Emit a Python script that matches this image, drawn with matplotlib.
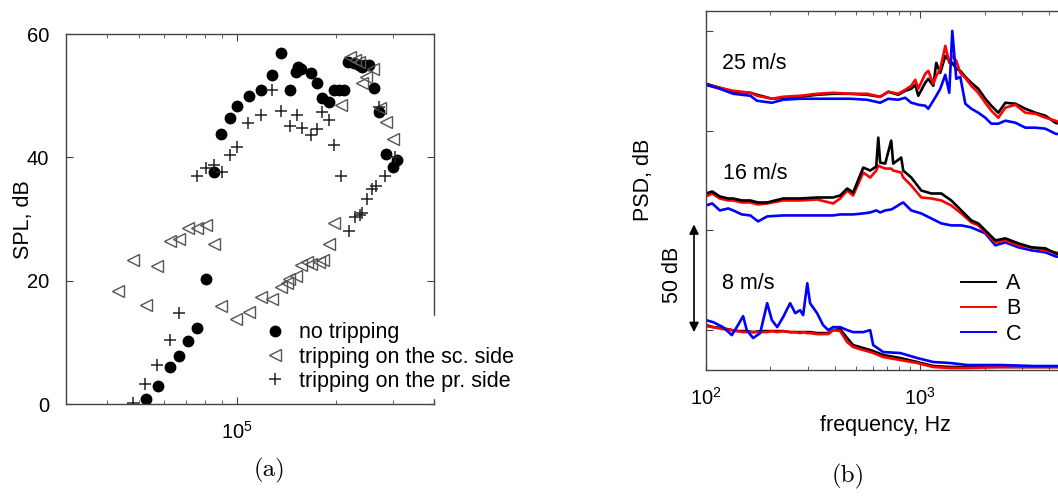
import matplotlib
matplotlib.use('Agg')
import matplotlib.pyplot as plt
from matplotlib.ticker import NullFormatter

plt.rcParams['font.family'] = ['Liberation Sans', 'DejaVu Sans']
plt.rcParams['mathtext.fontset'] = 'custom'
plt.rcParams['mathtext.rm'] = 'Liberation Sans'
plt.rcParams['mathtext.it'] = 'Liberation Sans:italic'
plt.rcParams['mathtext.bf'] = 'Liberation Sans:bold'

# ---- (a) SPL vs Reynolds number ----
re_none = [52500, 57200, 62300, 66500, 70800, 75400, 80300, 85300, 89600, 95000,
           100000, 109000, 118300, 127500, 136000, 144900, 151000, 153200, 156500, 168000,
           176000, 182000, 191000, 197800, 204800, 212000, 219000, 227000, 235500, 241000,
           246800, 252500, 261500, 271000, 285300, 299500, 307800]
spl_none = [0.8, 3.0, 6.0, 7.8, 10.2, 12.4, 20.3, 37.7, 43.8, 46.4,
            48.3, 50.0, 51.0, 53.3, 57.0, 51.0, 53.9, 54.7, 54.4, 53.7,
            52.0, 49.6, 49.0, 51.0, 51.0, 51.0, 55.5, 55.3, 55.0, 54.7,
            55.0, 55.0, 51.2, 47.3, 40.5, 38.5, 39.6]

re_sc = [43400, 48200, 52500, 57000, 62300, 66500, 70800, 75400, 80300, 85300,
         89600, 99500, 109000, 118300, 127500, 136000, 142500, 144200, 151000, 156500,
         164000, 168000, 177800, 183300, 191000, 197800, 208500, 222200, 230000, 235500,
         241000, 247700, 259500, 272800, 285300, 299500]
spl_sc = [18.3, 23.3, 16.1, 22.4, 26.5, 26.7, 28.5, 28.5, 29.0, 25.9,
          15.9, 13.8, 15.0, 17.4, 17.1, 18.9, 19.6, 20.2, 20.7, 22.5,
          23.1, 22.7, 23.1, 23.4, 26.0, 29.4, 48.5, 56.2, 55.8, 55.5,
          52.1, 53.0, 54.3, 48.0, 45.7, 42.9]

re_pr = [47950, 52300, 57000, 62300, 66500, 75400, 80300, 85300, 90000, 95000,
         100000, 108200, 118300, 127500, 136000, 144900, 152200, 157600, 168000, 176000,
         182000, 191000, 197800, 208500, 220500, 230000, 238400, 241000, 249500, 258400,
         266500, 271000, 284000, 304400]
spl_pr = [0.2, 3.2, 6.4, 10.3, 14.7, 37.0, 38.2, 38.8, 37.6, 40.3,
          41.6, 45.5, 46.8, 51.0, 47.5, 45.1, 46.9, 44.7, 43.7, 44.6,
          47.4, 46.1, 42.0, 36.9, 28.1, 30.3, 30.7, 30.9, 33.2, 34.8,
          35.4, 48.1, 36.9, 40.1]

# ---- (b) PSD spectra (dB, arbitrary offset per speed) ----
f25 = [100, 116, 134, 161, 173, 203, 229, 275, 330, 392, 471, 565, 650, 709, 789, 851,
       908, 948, 979, 1055, 1090, 1150, 1188, 1240, 1309, 1366, 1411, 1473, 1538, 1623,
       1731, 1866, 2012, 2147, 2314, 2496, 2779, 3095, 3446, 3838, 4273, 4812]
A25 = [143.5, 141.5, 139.5, 139, 138, 136, 136.5, 137, 138, 138.5, 138.5, 138, 137, 139.5,
       138, 140, 141, 143, 137.5, 144, 146, 142.5, 154, 149, 157.5, 155, 154, 151, 150, 147,
       144, 141, 136, 132.5, 129, 134, 133.5, 131, 129, 127.5, 124, 122.5]
B25 = [143, 141.5, 140, 139, 137.5, 136, 137, 137.5, 138.5, 139, 138.5, 138.5, 137, 139.5,
       138.5, 140.5, 142.5, 145.5, 141, 148.5, 150, 143.5, 147.5, 151, 162.5, 154, 157.5, 155,
       149, 146.5, 142.5, 139, 134, 130, 126.5, 131.5, 133, 129, 128.5, 126.5, 125, 123]
C25 = [143, 141, 138.5, 137.5, 135, 134, 135.5, 136, 136, 136, 136, 135.5, 134, 136,
       135.5, 136.5, 134, 133.5, 133, 132.5, 131, 135, 137.5, 141, 148, 139, 170, 146, 147,
       133.5, 131, 129, 126.5, 123.5, 123.5, 125, 124, 121.5, 121.5, 121, 118.5, 117.5]

f16 = [100, 107, 116, 127, 134, 147, 161, 175, 193, 229, 275, 330, 392, 423, 456, 486,
       542, 584, 623, 637, 650, 686, 732, 748, 815, 833, 908, 1011, 1126, 1254, 1396, 1555,
       1731, 1866, 2012, 2242, 2496, 2871, 3302, 3838, 4273, 4812]
A16 = [88.5, 89.5, 87, 86, 86, 85, 85, 84, 84, 86, 86, 86.5, 86.5, 87.5, 91, 89,
       101.5, 100, 102, 116.5, 104, 103.5, 115, 103.5, 106.5, 100, 96.5, 90, 88.5, 88.5,
       85, 80, 75, 73.5, 70, 65, 66, 63.5, 61.5, 61, 58.5, 57]
B16 = [87, 88.5, 86, 85, 85, 84, 84, 83, 83.5, 85, 85, 85.5, 83.5, 86, 90, 87.5,
       99, 96.5, 100, 102.5, 102, 101, 101, 100, 99, 96.5, 92.5, 86.5, 86, 85,
       82.5, 78.5, 74, 72.5, 69, 64, 65, 62.5, 61.5, 60, 59, 57.5]
C16 = [82.5, 83.5, 80, 81, 80, 78, 77.5, 74.5, 77, 77.5, 77.5, 77.5, 77.5, 78, 78, 78,
       78.5, 79, 80, 79.5, 79, 80, 80.5, 81, 83.5, 84, 80, 78.5, 76, 73.5,
       72.5, 72.5, 71.5, 70, 68.5, 62.5, 64, 61.5, 60, 59, 57, 56]

f8 = [100, 108, 120, 132, 141, 149, 155, 166, 179, 193, 203, 215, 229, 247, 261, 275,
      284, 297, 306, 330, 352, 372, 392, 423, 456, 486, 542, 584, 603, 672, 807, 968,
      1150, 1381, 1658, 2365, 3373, 4812]
A8 = [22.5, 21.5, 21, 20, 19.5, 19.5, 19.5, 19, 19.5, 19.5, 19.5, 19.5, 19.5, 19, 19, 19,
      19, 19, 19, 18.5, 18.5, 18.5, 20, 20.5, 16, 12.5, 11, 10, 9.5, 7.5, 6, 4,
      2, 1.5, 1.5, 1.5, 1.5, 1.5]
B8 = [22, 21.5, 20.5, 20, 19.5, 19, 19, 19, 19, 19, 19.5, 19, 19.5, 19, 19, 18.5,
      19, 18.5, 18.5, 18, 18, 18, 20, 19.5, 14, 11.5, 10, 9, 8.5, 6.5, 5, 3.5,
      1.5, 1, 1, 1.5, 1.5, 1.5]
C8 = [25, 24, 21.5, 17.5, 22.5, 27, 20, 16, 18.5, 33.5, 25, 21.5, 26.5, 33.5, 28.5, 30,
      27.5, 43.5, 33.5, 28.5, 22.5, 20, 21.5, 21.5, 20, 19, 19, 20, 12.5, 9, 8.5, 6,
      4, 3.5, 2.5, 2.5, 2, 2]

W, H = 1058, 496
fig = plt.figure(figsize=(W / 100, H / 100), dpi=100)

def style_axes(ax):
    for s in ax.spines.values():
        s.set_color('#444444')
        s.set_linewidth(1.0)
    ax.tick_params(which='both', direction='in', top=True, right=True,
                   colors='#444444', labelcolor='black', labelsize=14.5, pad=12)
    ax.tick_params(which='major', length=5)
    ax.tick_params(which='minor', length=3)

# ---------------- panel (a) ----------------
ax1 = fig.add_axes([66 / W, 1 - 404 / H, 368 / W, 370 / H])
ax1.plot(re_none, spl_none, 'o', color='black', ms=7.5, ls='none', label='no tripping')
ax1.plot(re_sc, spl_sc, '<', mfc='none', mec='#555555', ms=8, mew=1.0, ls='none',
         label='tripping on the sc. side')
ax1.plot(re_pr, spl_pr, '+', color='#222222', ms=9, mew=1.1, ls='none',
         label='tripping on the pr. side')
ax1.set_xscale('log')
ax1.set_xlim(3e4, 4e5)
ax1.set_ylim(0, 60)
ax1.set_yticks([0, 20, 40, 60])
ax1.xaxis.set_minor_formatter(NullFormatter())
style_axes(ax1)

leg1 = ax1.legend(loc='center left', bbox_to_anchor=(258 / W, 1 - 357 / H),
                  bbox_transform=fig.transFigure, fontsize=15.5, frameon=True,
                  fancybox=False, edgecolor='white', facecolor='white', framealpha=1,
                  handlelength=1.0, handletextpad=0.6, borderpad=0.3,
                  labelspacing=0.15, borderaxespad=0, numpoints=1)
leg1.set_zorder(10)

fig.text(23 / W, 1 - 220 / H, 'SPL, dB', rotation=90, ha='center', va='center', fontsize=15.5)
fig.text(270 / W, 1 - 470 / H, '(a)', family='cmr10', ha='center', va='center', fontsize=18)

# ---------------- panel (b) ----------------
lw = 1.9
ax2 = fig.add_axes([706 / W, 1 - 370 / H, 364 / W, 359 / H])
ax2.plot(f25, A25, color='black', lw=lw, label='A')
ax2.plot(f25, B25, color='red', lw=lw, label='B')
ax2.plot(f25, C25, color='blue', lw=lw, label='C')
ax2.plot(f16, C16, color='blue', lw=lw)
ax2.plot(f16, B16, color='red', lw=lw)
ax2.plot(f16, A16, color='black', lw=lw)
ax2.plot(f8, A8, color='black', lw=lw)
ax2.plot(f8, B8, color='red', lw=lw)
ax2.plot(f8, C8, color='blue', lw=lw)
ax2.set_xscale('log')
ax2.set_xlim(100, 5000)
ax2.set_ylim(0, 180)
ax2.set_yticks([20, 70, 120, 170])
ax2.xaxis.set_minor_formatter(NullFormatter())
style_axes(ax2)
ax2.tick_params(labelleft=False)

ax2.text(119, 153.5, '25 m/s', ha='left', va='center', fontsize=15.5)
ax2.text(120, 98.5, '16 m/s', ha='left', va='center', fontsize=15.5)
ax2.text(119, 43.5, '8 m/s', ha='left', va='center', fontsize=15.5)

leg2 = ax2.legend(loc='center left', bbox_to_anchor=(952 / W, 1 - 309 / H),
                  bbox_transform=fig.transFigure, fontsize=15.5, frameon=False,
                  handlelength=1.65, handletextpad=0.45, labelspacing=0.2, borderaxespad=0)
for ln in leg2.get_lines():
    ln.set_linewidth(1.4)

# 50 dB scale arrow left of the axis
tr = ax2.get_yaxis_transform()
ax2.annotate('', xy=(-12 / 364, 19), xytext=(-12 / 364, 73), xycoords=tr, textcoords=tr,
             arrowprops=dict(arrowstyle='<|-|>', color='black', lw=1.2,
                             mutation_scale=14, shrinkA=0, shrinkB=0),
             annotation_clip=False)
ax2.text(-33 / 364, 47.5, '50 dB', transform=tr, rotation=90, ha='center', va='center',
         fontsize=15.5)

fig.text(643 / W, 1 - 180 / H, 'PSD, dB', rotation=90, ha='center', va='center', fontsize=15.5)
fig.text(885 / W, 1 - 426 / H, 'frequency, Hz', ha='center', va='center', fontsize=15.5)
fig.text(848 / W, 1 - 476 / H, '(b)', family='cmr10', ha='center', va='center', fontsize=18)

fig.savefig('out.png', dpi=100)
